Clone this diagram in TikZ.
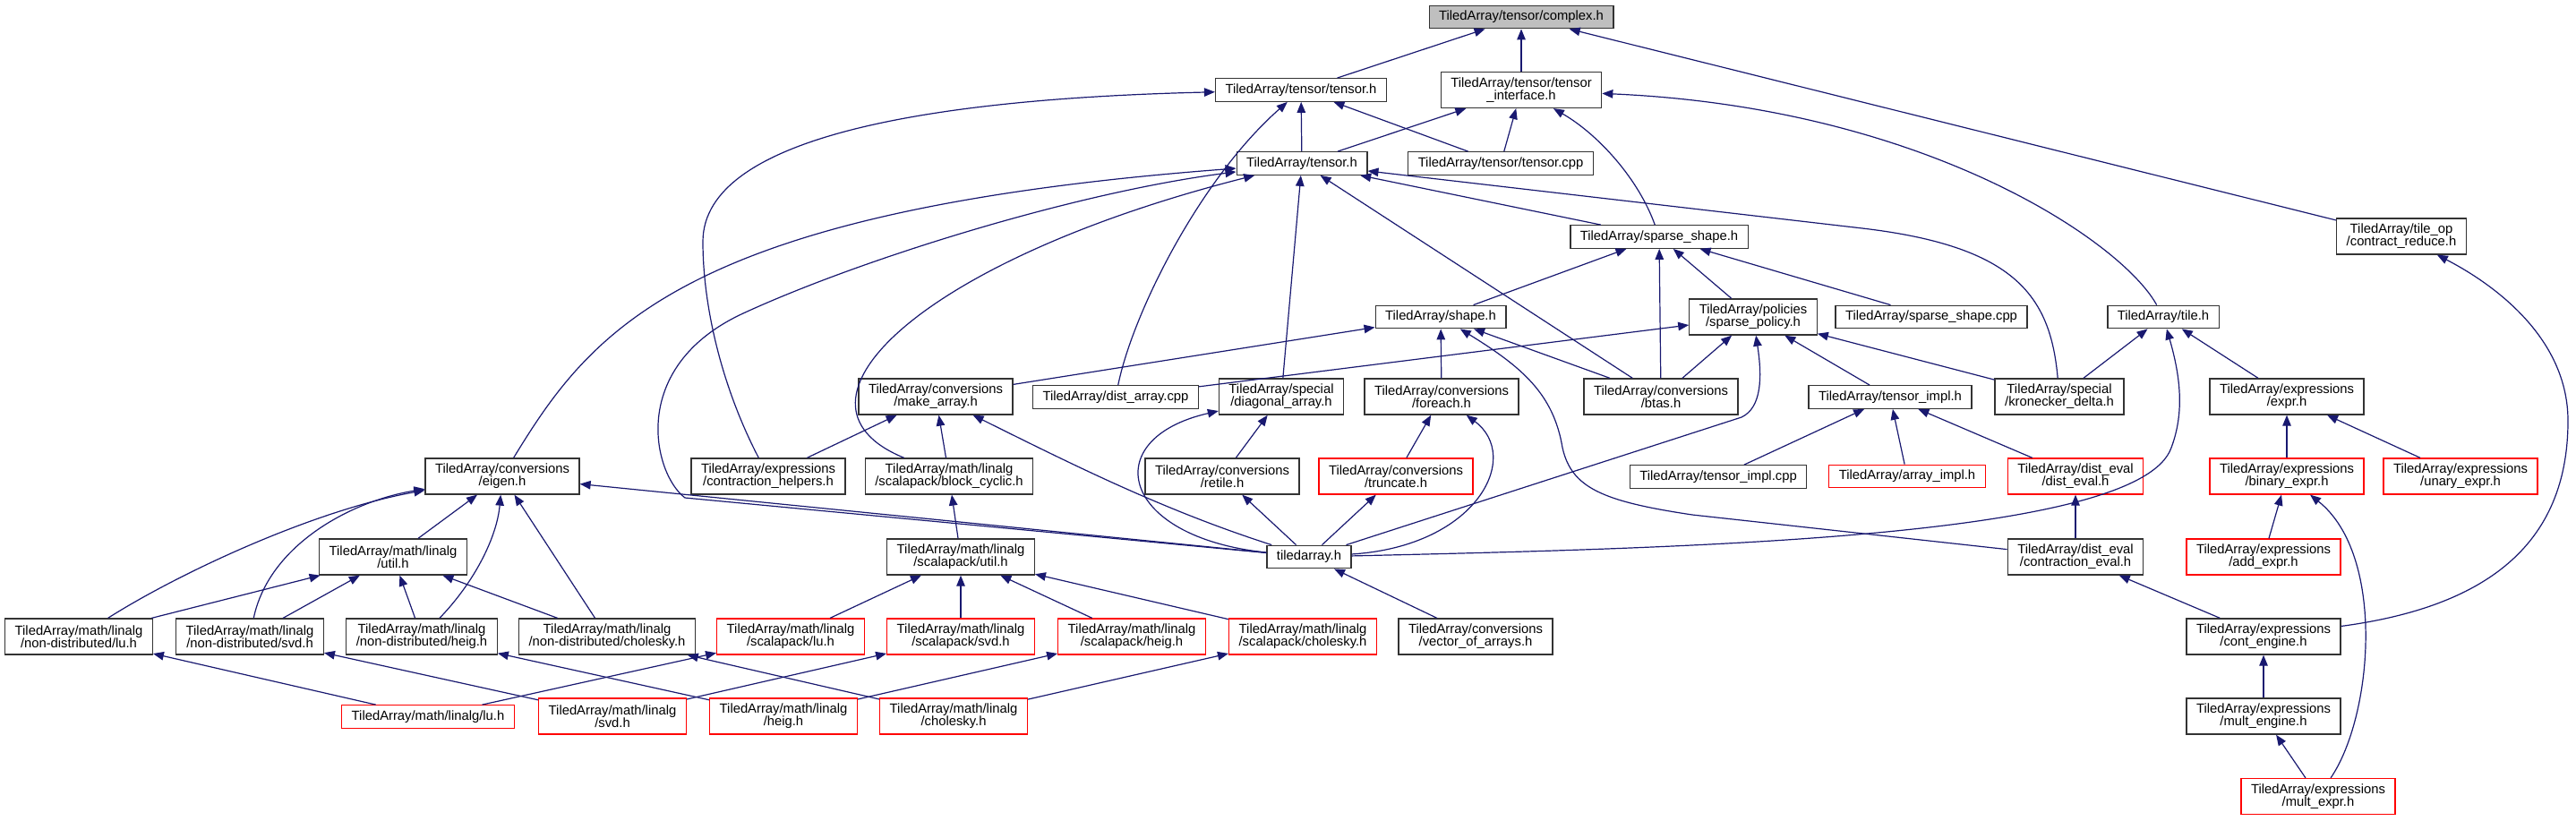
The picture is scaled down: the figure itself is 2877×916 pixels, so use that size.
\documentclass[tikz,border=0pt]{standalone}
\usepackage{fontspec}
\setmainfont{Liberation Sans}
\usetikzlibrary{arrows.meta}
\definecolor{linkblue}{RGB}{25,25,112}

\begin{document}
\begin{tikzpicture}[x=1pt, y=-1pt, >={Triangle[length=12pt, width=9.5pt]}]
\tikzset{
    filebox/.style={draw=black!80, line width=1.3pt, rectangle, minimum height=25.5pt, inner xsep=11pt, inner ysep=3pt, fill=white, align=center, font=\fontsize{14.8}{14}\selectfont},
    twoline/.style={minimum height=40pt},
    redbox/.style={filebox, draw=red},
    rootbox/.style={filebox, fill=black!25},
    dep/.style={->, draw=linkblue, line width=1.2pt}
}
\useasboundingbox (0,0) rectangle (2877,916);
% rows from top to bottom
\node[rootbox] (Complex) at (1699, 19) {TiledArray/tensor/complex.h};
\node[filebox] (TensorTensor) at (1453, 100.5) {TiledArray/tensor/tensor.h};
\node[filebox, twoline] (TensorIface) at (1699, 100.5) {TiledArray/tensor/tensor\\\_interface.h};
\node[filebox] (Tensor) at (1454, 182.5) {TiledArray/tensor.h};
\node[filebox] (TensorCpp) at (1676, 182.5) {TiledArray/tensor/tensor.cpp};
\node[filebox, twoline] (ContractReduce) at (2682, 264) {TiledArray/tile\_op\\/contract\_reduce.h};
\node[filebox] (SparseShape) at (1853, 264.5) {TiledArray/sparse\_shape.h};
\node[filebox] (Shape) at (1609, 354) {TiledArray/shape.h};
\node[filebox, twoline] (SparsePolicy) at (1958, 354) {TiledArray/policies\\/sparse\_policy.h};
\node[filebox] (SparseShapeCpp) at (2157, 354) {TiledArray/sparse\_shape.cpp};
\node[filebox] (Tile) at (2416, 354) {TiledArray/tile.h};
\node[filebox, twoline] (MakeArray) at (1045, 443) {TiledArray/conversions\\/make\_array.h};
\node[filebox] (DistArrayCpp) at (1246, 443.5) {TiledArray/dist\_array.cpp};
\node[filebox, twoline] (DiagArray) at (1431, 443) {TiledArray/special\\/diagonal\_array.h};
\node[filebox, twoline] (Foreach) at (1610, 443) {TiledArray/conversions\\/foreach.h};
\node[filebox, twoline] (Btas) at (1855, 443) {TiledArray/conversions\\/btas.h};
\node[filebox] (TensorImpl) at (2111, 443.5) {TiledArray/tensor\_impl.h};
\node[filebox, twoline] (Kronecker) at (2300, 443) {TiledArray/special\\/kronecker\_delta.h};
\node[filebox, twoline] (Expr) at (2554, 443) {TiledArray/expressions\\/expr.h};
\node[filebox, twoline] (Eigen) at (561, 532) {TiledArray/conversions\\/eigen.h};
\node[filebox, twoline] (ContrHelpers) at (858, 532) {TiledArray/expressions\\/contraction\_helpers.h};
\node[filebox, twoline] (BlockCyclic) at (1060, 532) {TiledArray/math/linalg\\/scalapack/block\_cyclic.h};
\node[filebox, twoline] (Retile) at (1365, 532) {TiledArray/conversions\\/retile.h};
\node[redbox, twoline] (Truncate) at (1559, 532) {TiledArray/conversions\\/truncate.h};
\node[filebox] (TensorImplCpp) at (1919, 532.5) {TiledArray/tensor\_impl.cpp};
\node[redbox] (ArrayImpl) at (2130, 532) {TiledArray/array\_impl.h};
\node[redbox, twoline] (DistEval) at (2318, 532) {TiledArray/dist\_eval\\/dist\_eval.h};
\node[redbox, twoline] (BinaryExpr) at (2554, 532) {TiledArray/expressions\\/binary\_expr.h};
\node[redbox, twoline] (UnaryExpr) at (2748, 532) {TiledArray/expressions\\/unary\_expr.h};
\node[filebox, twoline] (LinalgUtil) at (439, 622) {TiledArray/math/linalg\\/util.h};
\node[filebox, twoline] (ScalapackUtil) at (1073, 622) {TiledArray/math/linalg\\/scalapack/util.h};
\node[filebox] (TiledArrayH) at (1462, 622) {tiledarray.h};
\node[filebox, twoline] (ContrEval) at (2318, 622) {TiledArray/dist\_eval\\/contraction\_eval.h};
\node[redbox, twoline] (AddExpr) at (2528, 622) {TiledArray/expressions\\/add\_expr.h};
\node[filebox, twoline] (NdLu) at (88, 711) {TiledArray/math/linalg\\/non-distributed/lu.h};
\node[filebox, twoline] (NdSvd) at (279, 711) {TiledArray/math/linalg\\/non-distributed/svd.h};
\node[filebox, twoline] (NdHeig) at (471, 711) {TiledArray/math/linalg\\/non-distributed/heig.h};
\node[filebox, twoline] (NdChol) at (678, 711) {TiledArray/math/linalg\\/non-distributed/cholesky.h};
\node[redbox, twoline] (ScLu) at (883, 711) {TiledArray/math/linalg\\/scalapack/lu.h};
\node[redbox, twoline] (ScSvd) at (1073, 711) {TiledArray/math/linalg\\/scalapack/svd.h};
\node[redbox, twoline] (ScHeig) at (1264, 711) {TiledArray/math/linalg\\/scalapack/heig.h};
\node[redbox, twoline] (ScChol) at (1455, 711) {TiledArray/math/linalg\\/scalapack/cholesky.h};
\node[filebox, twoline] (VecArrays) at (1648, 711) {TiledArray/conversions\\/vector\_of\_arrays.h};
\node[filebox, twoline] (ContEngine) at (2528, 711) {TiledArray/expressions\\/cont\_engine.h};
\node[redbox] (Lu) at (478, 800.5) {TiledArray/math/linalg/lu.h};
\node[redbox, twoline] (Svd) at (684, 800) {TiledArray/math/linalg\\/svd.h};
\node[redbox, twoline] (Heig) at (875, 800) {TiledArray/math/linalg\\/heig.h};
\node[redbox, twoline] (Chol) at (1065, 800) {TiledArray/math/linalg\\/cholesky.h};
\node[filebox, twoline] (MultEngine) at (2528, 800) {TiledArray/expressions\\/mult\_engine.h};
\node[redbox, twoline] (MultExpr) at (2589, 889.5) {TiledArray/expressions\\/mult\_expr.h};
% includes, arrow at the included file
\draw[dep] (TensorTensor) -- (Complex); \draw[dep] (TensorIface) -- (Complex); \draw[dep] (ContractReduce) -- (Complex);
\draw[dep] (Tensor) -- (TensorTensor); \draw[dep] (TensorCpp) -- (TensorTensor);
\draw[dep] (DistArrayCpp) .. controls (1265,350) and (1340,200) .. (TensorTensor);
\draw[dep] (ContrHelpers) .. controls (805,430) and (785,340) .. (785,270) .. controls (785,150) and (1050,110) .. (TensorTensor);
\draw[dep] (Tensor) -- (TensorIface); \draw[dep] (TensorCpp) -- (TensorIface);
\draw[dep] (SparseShape) .. controls (1830,200) and (1785,150) .. (TensorIface);
\draw[dep] (Tile) .. controls (2370,270) and (2150,120) .. (TensorIface);
\draw[dep] (SparseShape) -- (Tensor); \draw[dep] (DiagArray) -- (Tensor); \draw[dep] (Btas) -- (Tensor);
\draw[dep] (Kronecker) .. controls (2290,330) and (2250,275) .. (2080,255) -- (Tensor);
\draw[dep] (Eigen) .. controls (660,370) and (760,235) .. (Tensor);
\draw[dep] (BlockCyclic) .. controls (860,450) and (1030,290) .. (Tensor);
\draw[dep] (TiledArrayH) -- (765,556) .. controls (730,530) and (700,410) .. (830,350) .. controls (960,290) and (1200,215) .. (Tensor);
\draw[dep] (Shape) -- (SparseShape); \draw[dep] (Btas) -- (SparseShape); \draw[dep] (SparsePolicy) -- (SparseShape); \draw[dep] (SparseShapeCpp) -- (SparseShape);
\draw[dep] (MakeArray) -- (Shape); \draw[dep] (Foreach) -- (Shape); \draw[dep] (Btas) -- (Shape);
\draw[dep] (ContrEval) -- (1890,575) .. controls (1790,560) and (1755,545) .. (1745,500) .. controls (1735,440) and (1700,410) .. (Shape);
\draw[dep] (DistArrayCpp) -- (SparsePolicy); \draw[dep] (Btas) -- (SparsePolicy); \draw[dep] (TensorImpl) -- (SparsePolicy); \draw[dep] (Kronecker) -- (SparsePolicy);
\draw[dep] (TiledArrayH) -- (1945,466) .. controls (1968,455) and (1968,420) .. (SparsePolicy);
\draw[dep] (Kronecker) -- (Tile); \draw[dep] (Expr) -- (Tile);
\draw[dep] (TiledArrayH) .. controls (1900,612) and (2390,600) .. (2425,500) .. controls (2440,460) and (2435,420) .. (Tile);
\draw[dep] (TensorImplCpp) -- (TensorImpl); \draw[dep] (ArrayImpl) -- (TensorImpl); \draw[dep] (DistEval) -- (TensorImpl);
\draw[dep] (ContrHelpers) -- (MakeArray); \draw[dep] (BlockCyclic) -- (MakeArray);
\draw[dep] (TiledArrayH) .. controls (1300,570) and (1200,520) .. (MakeArray);
\draw[dep] (Retile) -- (DiagArray);
\draw[dep] (TiledArrayH) .. controls (1250,600) and (1225,490) .. (DiagArray);
\draw[dep] (Truncate) -- (Foreach);
\draw[dep] (TiledArrayH) .. controls (1650,610) and (1700,510) .. (Foreach);
\draw[dep] (BinaryExpr) -- (Expr); \draw[dep] (UnaryExpr) -- (Expr);
\draw[dep] (NdLu) .. controls (200,640) and (350,570) .. (Eigen);
\draw[dep] (NdSvd) .. controls (300,610) and (390,560) .. (Eigen);
\draw[dep] (NdHeig) .. controls (530,650) and (555,600) .. (Eigen);
\draw[dep] (LinalgUtil) -- (Eigen); \draw[dep] (NdChol) -- (Eigen); \draw[dep] (TiledArrayH) -- (Eigen);
\draw[dep] (NdLu) -- (LinalgUtil); \draw[dep] (NdSvd) -- (LinalgUtil); \draw[dep] (NdHeig) -- (LinalgUtil); \draw[dep] (NdChol) -- (LinalgUtil);
\draw[dep] (ScalapackUtil) -- (BlockCyclic);
\draw[dep] (TiledArrayH) -- (Retile); \draw[dep] (TiledArrayH) -- (Truncate);
\draw[dep] (ContrEval) -- (DistEval); \draw[dep] (AddExpr) -- (BinaryExpr);
\draw[dep] (MultExpr) .. controls (2650,800) and (2665,620) .. (BinaryExpr);
\draw[dep] (VecArrays) -- (TiledArrayH); \draw[dep] (ContEngine) -- (ContrEval);
\draw[dep] (ContEngine) .. controls (2760,680) and (2868,620) .. (2868,470) .. controls (2868,380) and (2790,320) .. (ContractReduce);
\draw[dep] (MultEngine) -- (ContEngine); \draw[dep] (MultExpr) -- (MultEngine);
\draw[dep] (ScLu) -- (ScalapackUtil); \draw[dep] (ScSvd) -- (ScalapackUtil); \draw[dep] (ScHeig) -- (ScalapackUtil); \draw[dep] (ScChol) -- (ScalapackUtil);
\draw[dep] (Lu) -- (NdLu); \draw[dep] (Lu) -- (ScLu);
\draw[dep] (Svd) -- (NdSvd); \draw[dep] (Svd) -- (ScSvd);
\draw[dep] (Heig) -- (NdHeig); \draw[dep] (Heig) -- (ScHeig);
\draw[dep] (Chol) -- (NdChol); \draw[dep] (Chol) -- (ScChol);
\end{tikzpicture}
\end{document}
